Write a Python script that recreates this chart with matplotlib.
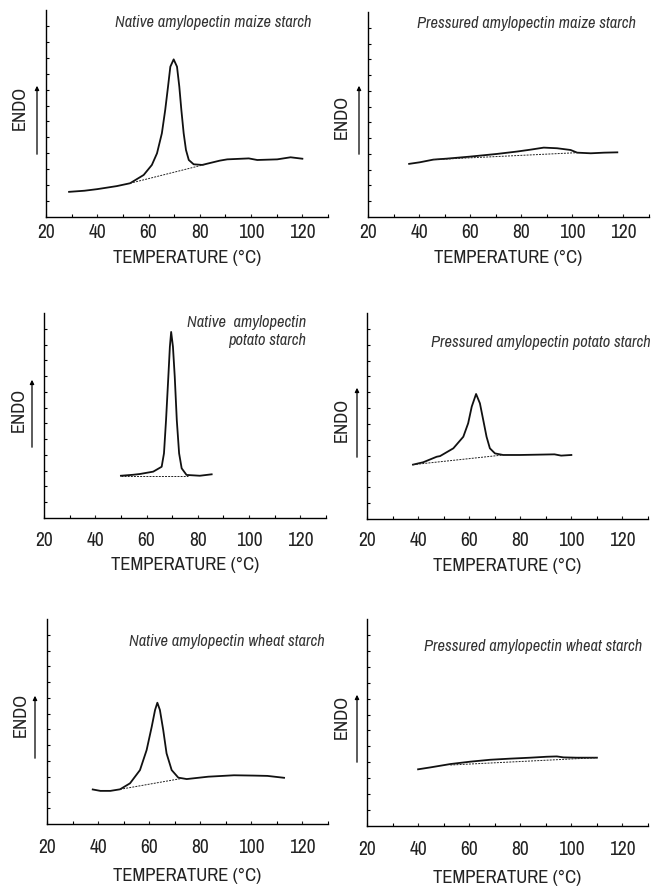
import matplotlib
matplotlib.use("Agg")
import matplotlib.pyplot as plt
from matplotlib.patches import FancyArrowPatch

plt.rcParams["font.family"] = ["Archivo Narrow", "DejaVu Sans"]

# DSC traces (temperature in C, heat flow in arbitrary units, axis 0-13)
maize_nat_t = [29, 35, 40, 47.6, 52.8, 58.1, 61.3, 63.3, 65.2, 66.5, 67.6, 68.5, 69.8, 71.1,
               72.0, 72.8, 73.7, 74.6, 75.7, 77.6, 80.9, 87.8, 90.7, 99.1, 102.4, 110.2, 115.4, 120]
maize_nat_y = [1.58, 1.65, 1.75, 1.94, 2.12, 2.64, 3.27, 4.0, 5.26, 6.72, 8.19, 9.44, 9.9, 9.44,
               8.19, 6.72, 5.26, 4.21, 3.58, 3.31, 3.27, 3.54, 3.62, 3.68, 3.58, 3.62, 3.75, 3.66]
maize_nat_base_t = [52.8, 82]
maize_nat_base_y = [2.12, 3.3]

maize_pres_t = [36.1, 40.3, 45.6, 50.8, 60, 70.5, 78.3, 83.6, 88.8, 94, 99.3, 101.9, 107.2, 112.4, 117.6]
maize_pres_y = [3.37, 3.47, 3.64, 3.7, 3.83, 4.0, 4.15, 4.27, 4.4, 4.36, 4.25, 4.08, 4.04, 4.08, 4.1]
maize_pres_base_t = [45.6, 101.9]
maize_pres_base_y = [3.64, 4.08]

potato_nat_t = [50.0, 54.7, 57.4, 62.6, 65.9, 66.8, 67.6, 68.5, 69.1, 69.6, 70.3, 71.0, 71.8,
                72.7, 73.7, 75.6, 80.8, 85.4]
potato_nat_y = [2.68, 2.74, 2.79, 2.94, 3.25, 4.1, 6.2, 8.96, 10.86, 11.8, 10.86, 8.96, 6.2,
                4.1, 3.15, 2.73, 2.68, 2.77]
potato_nat_base_t = [50.0, 76.0]
potato_nat_base_y = [2.64, 2.64]

potato_pres_t = [38, 42, 47.3, 48.6, 53.8, 57.7, 59.6, 61.0, 62.7, 64.2, 65.5, 66.8, 68.1, 70.1,
                 73.3, 79.9, 86.8, 93.4, 96, 100]
potato_pres_y = [3.43, 3.58, 3.93, 3.97, 4.46, 5.19, 6.04, 7.09, 7.89, 7.3, 6.25, 5.19, 4.46, 4.14,
                 4.04, 4.04, 4.06, 4.08, 4.0, 4.04]
potato_pres_base_t = [38, 73.3]
potato_pres_base_y = [3.43, 4.04]

wheat_nat_t = [37.9, 40.9, 44.8, 48.6, 52.5, 56.4, 59.0, 61.0, 62.3, 63.2, 64.2, 65.5, 66.8,
               68.8, 71.4, 74.7, 83.1, 93.2, 101, 106.3, 112.8]
wheat_nat_y = [2.19, 2.1, 2.1, 2.2, 2.58, 3.42, 4.69, 6.17, 7.23, 7.69, 7.23, 5.96, 4.48,
               3.42, 2.94, 2.85, 3.0, 3.09, 3.07, 3.05, 2.93]
wheat_nat_base_t = [48.6, 72.5]
wheat_nat_base_y = [2.2, 2.88]

wheat_pres_t = [40, 44.8, 52.6, 60.4, 68.2, 76, 83.9, 90.4, 94.3, 96.9, 102.1, 110]
wheat_pres_y = [3.56, 3.68, 3.89, 4.04, 4.16, 4.23, 4.29, 4.35, 4.37, 4.31, 4.29, 4.29]
wheat_pres_base_t = [52.6, 110]
wheat_pres_base_y = [3.83, 4.29]

titles = ["Native amylopectin maize starch", "Pressured amylopectin maize starch",
          "Native  amylopectin\npotato starch", "Pressured amylopectin potato starch",
          "Native amylopectin wheat starch", "Pressured amylopectin wheat starch"]

curves = [(maize_nat_t, maize_nat_y, maize_nat_base_t, maize_nat_base_y),
          (maize_pres_t, maize_pres_y, maize_pres_base_t, maize_pres_base_y),
          (potato_nat_t, potato_nat_y, potato_nat_base_t, potato_nat_base_y),
          (potato_pres_t, potato_pres_y, potato_pres_base_t, potato_pres_base_y),
          (wheat_nat_t, wheat_nat_y, wheat_nat_base_t, wheat_nat_base_y),
          (wheat_pres_t, wheat_pres_y, wheat_pres_base_t, wheat_pres_base_y)]

W, H = 651, 890
fig = plt.figure(figsize=(W / 100, H / 100), dpi=100)

# axes boxes in pixels: left, right, top, bottom
boxes = [(46, 328, 10, 217), (368, 649, 12, 217),
         (44, 326, 313, 518), (367, 648, 313, 519),
         (47, 328, 619, 824), (367, 648, 619, 826)]
title_pos = [(0.94, 0.94), (0.955, 0.945), (0.93, 0.91), (1.01, 0.855), (0.99, 0.888), (0.98, 0.865)]
tick_pad = [4, 4, 9, 9, 10, 10]
label_pad = [6, 6, 5.5, 5.5, 8, 8]
# ENDO text (x, y) and arrow (x, y_bottom, y_top), figure pixels from top
endo = [((20, 108), (37, 157, 83)), ((342, 117), (359, 157, 83)),
        ((19, 410), (32, 450, 377)), ((342, 420), (357, 460, 385)),
        ((21, 715), (35, 761, 693)), ((342, 717), (357, 765, 692))]

for i, (l, r, t, b) in enumerate(boxes):
    ax = fig.add_axes([l / W, 1 - b / H, (r - l) / W, (b - t) / H])
    x, y, bx, by = curves[i]
    ax.plot(x, y, color="#111111", lw=1.3, solid_joinstyle="round")
    ax.plot(bx, by, color="#222222", lw=0.7, ls=(0, (2, 1.2)))
    ax.set_xlim(20, 130)
    ax.set_ylim(0, 13)
    ax.set_xticks([20, 40, 60, 80, 100, 120])
    ax.set_xticks([30, 50, 70, 90, 110, 130], minor=True)
    ax.set_yticks(range(1, 13))
    ax.set_yticklabels([])
    ax.tick_params(axis="both", which="both", direction="in", length=2.5, width=0.8)
    ax.tick_params(axis="x", labelsize=14, pad=tick_pad[i], colors="#222222")
    ax.spines["top"].set_visible(False)
    ax.spines["right"].set_visible(False)
    ax.spines["left"].set_linewidth(1.0)
    ax.spines["bottom"].set_linewidth(1.0)
    ax.set_xlabel("TEMPERATURE (°C)", fontsize=13.5, labelpad=label_pad[i], color="#222222")
    ax.text(title_pos[i][0], title_pos[i][1], titles[i], transform=ax.transAxes,
            ha="right", va="center", fontsize=11.8, style="italic", color="#333333",
            linespacing=1.25)
    (tx, ty), (ax_x, ay0, ay1) = endo[i]
    fig.text(tx / W, 1 - ty / H, "ENDO", rotation=90, ha="center", va="center",
             fontsize=13.5, color="#222222")
    fig.add_artist(FancyArrowPatch(
        (ax_x / W, 1 - ay0 / H), (ax_x / W, 1 - ay1 / H), transform=fig.transFigure,
        arrowstyle="-|>", mutation_scale=6, lw=0.9, color="black"))

fig.savefig("out.png", dpi=100)
